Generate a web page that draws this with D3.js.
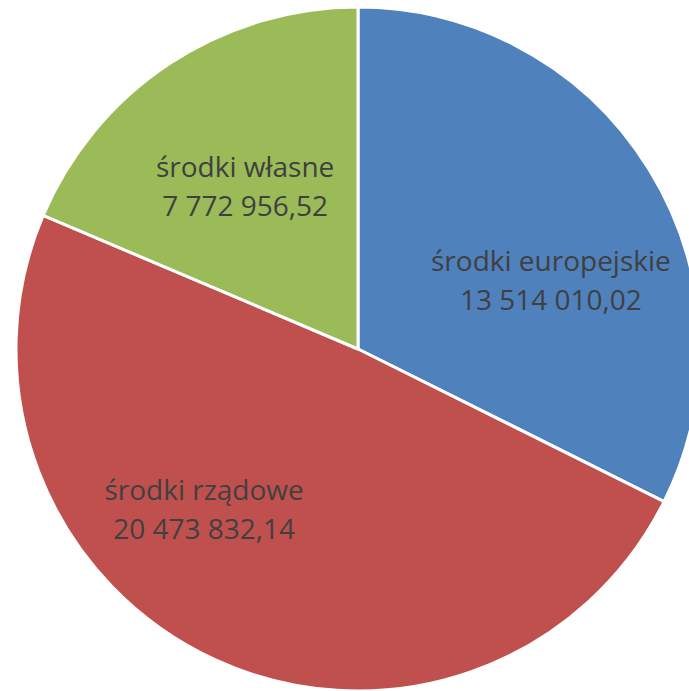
<!DOCTYPE html>
<html>
<head>
<meta charset="utf-8">
<script src="https://cdn.jsdelivr.net/npm/d3@7"></script>
<style>
  body { margin: 0; background: #fff; }
  svg text { font-family: "Open Sans", "Noto Sans", sans-serif; }
</style>
</head>
<body>
<div id="container"></div>
<script>
var width = 689;
var height = 691;

// data
var categories = ["środki europejskie", "środki rządowe", "środki własne"];
var values = [13514010.02, 20473832.14, 7772956.52];
var valueLabels = ["13 514 010,02", "20 473 832,14", "7 772 956,52"];
var colors = ["#4F81BD", "#C0504D", "#9BBB59"];

// label anchor offsets from pie centre (as fraction of radius), Excel-style placement
var labelOffsets = [[0.564, -0.2], [-0.45, 0.47], [-0.33, -0.475]];

var cx = 358, cy = 349, radius = 342;

var svg = d3.select("div#container").append("svg")
    .attr("width", width)
    .attr("height", height);

var pie = d3.pie().sort(null).value(function(d) { return d; });
var arc = d3.arc().innerRadius(0).outerRadius(radius);

var g = svg.append("g")
    .attr("transform", "translate(" + cx + "," + cy + ")");

var slices = pie(values);

g.selectAll("path")
    .data(slices)
    .enter()
    .append("path")
    .attr("d", arc)
    .attr("fill", function(d, i) { return colors[i]; })
    .attr("stroke", "#fff")
    .attr("stroke-width", 3)
    .attr("stroke-linejoin", "round");

// labels
var labels = g.selectAll("text.lbl")
    .data(slices)
    .enter()
    .append("text")
    .attr("class", "lbl")
    .attr("text-anchor", "middle")
    .attr("fill", "#404040")
    .style("font-size", "28px")
    .attr("transform", function(d, i) {
        return "translate(" + (labelOffsets[i][0] * radius) + "," + (labelOffsets[i][1] * radius) + ")";
    });

labels.append("tspan")
    .attr("x", 0)
    .attr("y", -10)
    .text(function(d, i) { return categories[i]; });

labels.append("tspan")
    .attr("x", 0)
    .attr("y", 29)
    .text(function(d, i) { return valueLabels[i]; });
</script>
</body>
</html>
